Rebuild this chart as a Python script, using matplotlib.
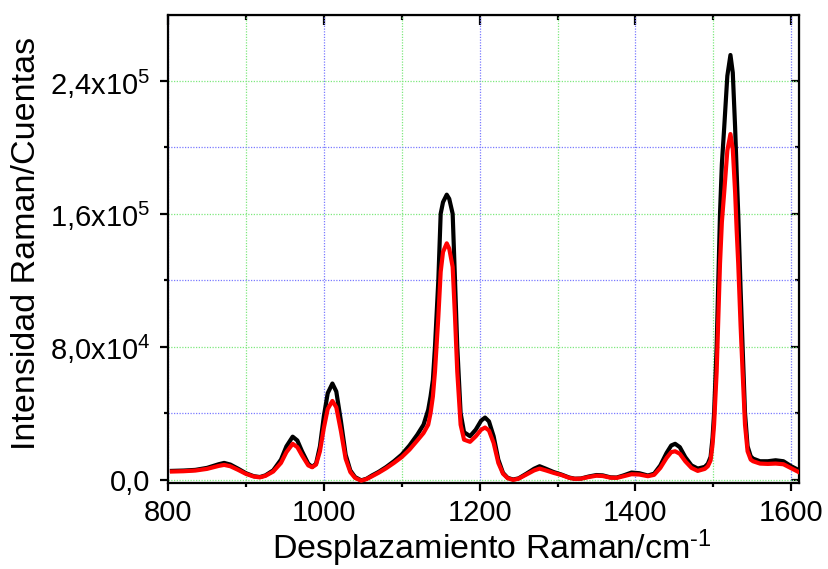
import numpy as np
import matplotlib
matplotlib.use("Agg")
import matplotlib.pyplot as plt
from matplotlib.ticker import MultipleLocator, FixedLocator, FixedFormatter

plt.rcParams['font.family'] = ['Liberation Sans', 'DejaVu Sans']
plt.rcParams['mathtext.fontset'] = 'custom'
plt.rcParams['mathtext.rm'] = 'Liberation Sans'
plt.rcParams['mathtext.default'] = 'regular'

# Raman shift (cm-1)
shift = [805, 820, 835, 850, 865, 872, 880, 890, 900, 910, 918, 925, 935, 945, 952,
         960, 966, 972, 980, 985, 990, 995, 1000, 1005, 1011, 1016, 1022, 1028, 1034,
         1040, 1048, 1055, 1062, 1070, 1080, 1090, 1100, 1110, 1120, 1128, 1134, 1137,
         1140, 1142.7, 1147, 1150, 1153, 1157.8, 1161, 1165.4, 1168.4, 1171.3, 1175.6,
         1180, 1187.7, 1195, 1202, 1207, 1212, 1218, 1224, 1230, 1236, 1243, 1250, 1260,
         1270, 1277, 1285, 1295, 1305, 1315, 1322, 1330, 1340, 1350, 1358, 1368, 1376,
         1385, 1395, 1405, 1416, 1424, 1432, 1440, 1446, 1451, 1457, 1464, 1472, 1480,
         1489, 1493, 1496.5, 1499, 1501, 1504.3, 1508.6, 1511, 1514, 1518, 1522, 1525,
         1528, 1530, 1532, 1535, 1537.6, 1540.7, 1544, 1548, 1551, 1560, 1570, 1580,
         1590, 1600, 1610]

# black spectrum
counts_black = [5200, 5400, 5800, 7000, 9200, 10000, 9000, 6500, 3800, 2000, 1500, 2500, 5500, 12000, 20000,
                25800, 23500, 17000, 9500, 7600, 9500, 20000, 38000, 52000, 57800, 53000, 35000, 15000, 5500,
                1500, -500, 500, 2500, 4500, 7500, 11000, 15000, 20500, 27000, 33000, 42000, 50000,
                60000, 80000, 120000, 160000, 167000, 171500, 169000, 160000, 120000, 80000, 40000,
                28500, 26100, 30000, 35500, 37300, 35000, 26000, 12000, 4000, 1000, 0, 700, 3500,
                6500, 8000, 6500, 4500, 3000, 1200, 500, 600, 1800, 2700, 2500, 1300, 1200,
                2500, 4200, 3800, 2400, 3500, 8500, 16000, 20500, 21500, 19500, 13500, 8500, 6600,
                7600, 9500, 13600, 25000, 40000, 80000, 160000, 190000, 212000, 243000, 255600, 245000,
                212000, 185000, 160000, 115000, 80000, 40000, 20000, 14000, 12600, 11000, 11000, 11600,
                11000, 8000, 5600]

# red spectrum
counts_red = [4800, 5000, 5400, 6400, 8200, 8800, 8000, 5800, 3400, 1800, 1300, 2200, 4800, 10000, 16500,
              21500, 19500, 14500, 8500, 7400, 9000, 17000, 31000, 42500, 47300, 43500, 29000, 12500, 4500,
              1000, -700, 300, 2000, 4000, 6800, 10000, 13500, 18000, 23500, 28000, 33000, 40000,
              50000, 65000, 98000, 125000, 137000, 142200, 139000, 128000, 98000, 65000, 33000,
              24000, 22700, 26000, 30000, 31300, 29500, 22000, 10000, 3500, 800, -200, 500, 3000,
              5500, 6600, 5500, 4000, 2700, 1000, 400, 500, 1500, 2300, 2100, 1100, 1000,
              2000, 3200, 3000, 2000, 2800, 7000, 13000, 16500, 17000, 15500, 11000, 7000, 5200,
              6400, 8000, 11500, 21000, 33000, 65000, 130000, 155000, 173000, 198000, 208000, 199000,
              173000, 150000, 130000, 93000, 65000, 33000, 17000, 12000, 11000, 9600, 9400, 9600,
              9200, 6800, 4400]

ytick_vals = [0, 80000, 160000, 240000]
ytick_labels = ['0,0', '8,0x10$^{4}$', '1,6x10$^{5}$', '2,4x10$^{5}$']

fig = plt.figure(figsize=(8.29, 5.69), dpi=100)
ax = fig.add_axes([0.2027, 0.152, 0.7611, 0.8211])

ax.plot(shift, counts_black, color='black', lw=3.0, zorder=3, solid_joinstyle='round')
ax.plot(shift, counts_red, color='red', lw=3.0, zorder=4, solid_joinstyle='round')

ax.set_xlim(800, 1610)
ax.set_ylim(-1800, 279500)

ax.xaxis.set_major_locator(MultipleLocator(200))
ax.xaxis.set_minor_locator(MultipleLocator(100))
ax.yaxis.set_major_locator(FixedLocator(ytick_vals))
ax.yaxis.set_major_formatter(FixedFormatter(ytick_labels))
ax.yaxis.set_minor_locator(FixedLocator([40000, 120000, 200000]))

# Origin-like grids: blue on x-major / y-minor, green on x-minor / y-major
dots = (0, (1, 1.2))
ax.grid(True, which='major', axis='x', color='#7a7aff', lw=0.9, ls=dots)
ax.grid(True, which='minor', axis='x', color='#7ee87e', lw=0.9, ls=dots)
ax.grid(True, which='major', axis='y', color='#7ee87e', lw=0.9, ls=dots)
ax.grid(True, which='minor', axis='y', color='#7a7aff', lw=0.9, ls=dots)
ax.set_axisbelow(True)

for s in ax.spines.values():
    s.set_linewidth(1.6)

ax.tick_params(axis='both', which='major', direction='out', length=6, width=1.6,
               labelsize=21, pad=6)
ax.tick_params(axis='both', which='minor', direction='out', length=3, width=1.6)
ax.tick_params(axis='y', which='major', pad=7)

top = ax.secondary_xaxis('top')
top.xaxis.set_major_locator(MultipleLocator(200))
top.xaxis.set_minor_locator(MultipleLocator(100))
top.tick_params(which='major', direction='in', length=7, width=1.6, labeltop=False)
top.tick_params(which='minor', direction='in', length=3.5, width=1.6)
right = ax.secondary_yaxis('right')
right.yaxis.set_major_locator(FixedLocator(ytick_vals))
right.yaxis.set_minor_locator(FixedLocator([40000, 120000, 200000]))
right.tick_params(which='major', direction='in', length=6, width=1.6, labelright=False)
right.tick_params(which='minor', direction='in', length=3, width=1.6)

ax.set_xlabel('Desplazamiento Raman/cm$^{\\text{-}1}$', fontsize=24.5)
ax.set_ylabel('Intensidad Raman/Cuentas', fontsize=24.5)
ax.xaxis.set_label_coords(0.513, -0.097)
ax.yaxis.set_label_coords(-0.2, 0.512)

fig.savefig('out.png', dpi=100)
